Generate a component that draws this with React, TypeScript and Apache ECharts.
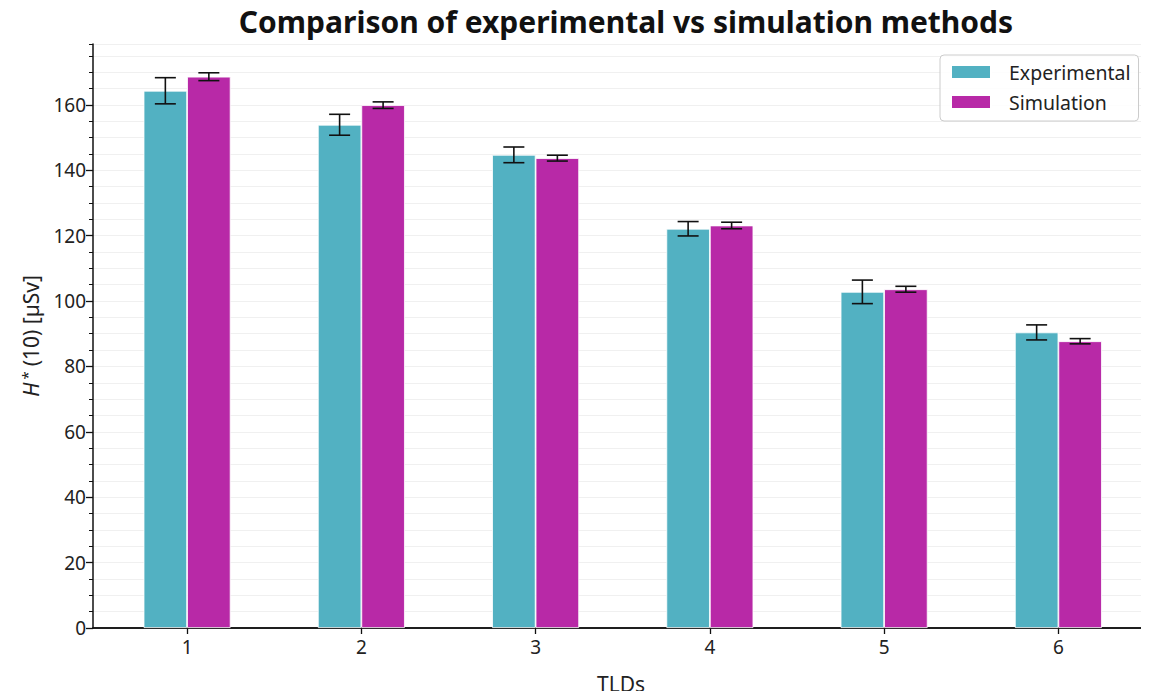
import React, { useEffect, useRef } from "react";
import * as echarts from "echarts";

const categories = [1, 2, 3, 4, 5, 6];
const experimental = [164.3, 153.9, 144.7, 122.1, 102.8, 90.4];
const experimentalErr = [4.0, 3.2, 2.4, 2.2, 3.6, 2.3];
const simulation = [168.6, 159.9, 143.7, 123.1, 103.6, 87.7];
const simulationErr = [1.2, 1.0, 0.9, 1.0, 0.9, 0.8];
const yTicks = [0, 20, 40, 60, 80, 100, 120, 140, 160];

const FONT = "Noto Sans";
const TEAL = "#52b1c2";
const MAGENTA = "#b829a7";
const BAR_W = 43.5;

function errSeries(name: string, vals: number[], errs: number[], offset: number) {
  return {
    type: "custom",
    name: name + " err",
    xAxisIndex: 0,
    yAxisIndex: 0,
    silent: true,
    z: 10,
    data: categories.map((c, i) => [c, vals[i] - errs[i], vals[i] + errs[i]]),
    renderItem: (params: any, api: any) => {
      const lo = api.coord([api.value(0), api.value(1)]);
      const hi = api.coord([api.value(0), api.value(2)]);
      const x = lo[0] + offset;
      const cap = 10.5;
      const st = { stroke: "#111", lineWidth: 1.6 };
      return {
        type: "group",
        children: [
          { type: "line", shape: { x1: x, y1: lo[1], x2: x, y2: hi[1] }, style: st },
          { type: "line", shape: { x1: x - cap, y1: lo[1], x2: x + cap, y2: lo[1] }, style: st },
          { type: "line", shape: { x1: x - cap, y1: hi[1], x2: x + cap, y2: hi[1] }, style: st },
        ],
      };
    },
  };
}

export default function App() {
  const ref = useRef<HTMLDivElement>(null);
  useEffect(() => {
    if (!ref.current) return;
    const chart = echarts.init(ref.current, null, { renderer: "svg" });
    const xMin = 0.46;
    const xMax = 6.52;
    const yMax = 178.6;
    chart.setOption({
      animation: false,
      textStyle: { fontFamily: FONT },
      title: {
        text: "Comparison of experimental vs simulation methods",
        left: 621,
        textAlign: "center",
        top: 1,
        textStyle: { fontFamily: FONT, fontSize: 30, fontWeight: "bold", color: "#111" },
      },
      legend: {
        left: 940,
        top: 55,
        orient: "vertical",
        icon: "rect",
        itemWidth: 40,
        itemHeight: 14,
        itemGap: 10,
        padding: [7, 8, 9, 10],
        borderColor: "#cccccc",
        borderWidth: 1,
        borderRadius: 4,
        backgroundColor: "rgba(255,255,255,0.85)",
        data: ["Experimental", "Simulation"],
        textStyle: { fontFamily: FONT, fontSize: 19.5, color: "#222", lineHeight: 20, padding: [0, 0, 0, 13] },
      },
      grid: { left: 93, right: 0, top: 44, bottom: 71, containLabel: false },
      xAxis: [
        {
          type: "value",
          min: xMin,
          max: xMax,
          name: "TLDs",
          nameLocation: "middle",
          nameGap: 45,
          nameTextStyle: { fontFamily: FONT, fontSize: 21, color: "#222" },
          axisLine: { show: true, lineStyle: { color: "#111", width: 1.5 } },
          axisTick: { show: true, length: 6, customValues: categories, lineStyle: { color: "#111", width: 1.3 } },
          axisLabel: {
            customValues: categories,
            margin: 9,
            fontFamily: FONT,
            fontSize: 19,
            color: "#222",
            formatter: (v: number) => String(v),
          },
          splitLine: { show: false },
        },
        {
          type: "value",
          position: "top",
          min: xMin,
          max: xMax,
          axisLine: { show: true, lineStyle: { color: "#111", width: 1.5 } },
          axisTick: { show: false },
          axisLabel: { show: false },
          splitLine: { show: false },
        },
      ],
      yAxis: [
        {
          type: "value",
          min: 0,
          max: yMax,
          interval: 20,
          name: "{i|H}{s|*}{n|(10) [µSv]}",
          nameLocation: "middle",
          nameGap: 50,
          nameRotate: 90,
          nameTextStyle: {
            fontFamily: FONT,
            fontSize: 21,
            color: "#222",
            rich: {
              i: { fontFamily: FONT, fontSize: 21, fontStyle: "italic", color: "#222" },
              s: { fontFamily: FONT, fontSize: 15, color: "#222", verticalAlign: "top", padding: [0, 5, 9, 3] },
              n: { fontFamily: FONT, fontSize: 21, color: "#222" },
            },
          },
          axisLine: { show: true, lineStyle: { color: "#111", width: 1.5 } },
          axisTick: { show: true, length: 7, customValues: yTicks, lineStyle: { color: "#111", width: 1.3 } },
          axisLabel: {
            customValues: yTicks,
            margin: 7,
            fontFamily: FONT,
            fontSize: 19,
            color: "#222",
            formatter: (v: number) => String(v),
          },
          splitLine: { show: true, lineStyle: { color: "#e0e0e0", width: 1.2 } },
        },
        {
          type: "value",
          min: 0,
          max: yMax,
          interval: 5,
          position: "left",
          axisLine: { show: false },
          axisTick: { show: true, length: 4, lineStyle: { color: "#111", width: 1 } },
          axisLabel: { show: false },
          splitLine: { show: true, lineStyle: { color: "#f0f0f0", width: 1.2 } },
          z: 0,
        },
      ],
      series: [
        {
          name: "Experimental",
          type: "bar",
          xAxisIndex: 0,
          yAxisIndex: 0,
          barWidth: BAR_W,
          barGap: "0%",
          itemStyle: { color: TEAL, borderColor: "#ffffff", borderWidth: 0.8 },
          data: categories.map((c, i) => [c, experimental[i]]),
          z: 5,
        },
        {
          name: "Simulation",
          type: "bar",
          xAxisIndex: 0,
          yAxisIndex: 0,
          barWidth: BAR_W,
          barGap: "0%",
          itemStyle: { color: MAGENTA, borderColor: "#ffffff", borderWidth: 0.8 },
          data: categories.map((c, i) => [c, simulation[i]]),
          z: 5,
        },
        errSeries("Experimental", experimental, experimentalErr, -BAR_W / 2),
        errSeries("Simulation", simulation, simulationErr, BAR_W / 2),
      ],
    });
    return () => chart.dispose();
  }, []);
  return <div ref={ref} style={{ width: 1149, height: 699, margin: -8 }} />;
}
